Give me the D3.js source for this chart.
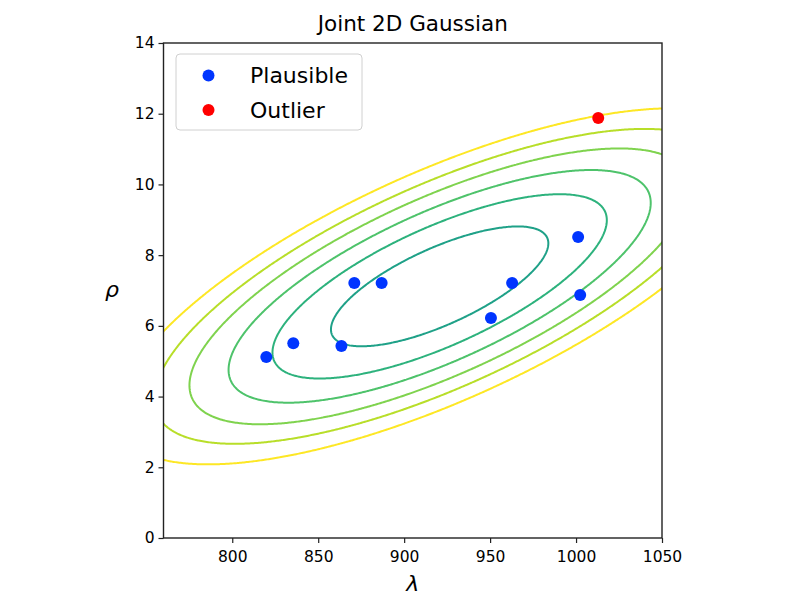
<!DOCTYPE html>
<html><head><meta charset="utf-8">
<script src="https://cdn.jsdelivr.net/npm/d3@7"></script>
<style>
body{margin:0;background:#fff;}
text{font-family:"DejaVu Sans",sans-serif;fill:#000;}
</style>
</head><body>
<svg id="chart" width="800" height="600"></svg>
<script>
// ---- data ----
const plausibleLambda = [819.8, 835.5, 863.5, 871.0, 886.9, 950.5, 962.8, 1001.2, 1002.4];
const plausibleRho    = [5.12, 5.51, 5.43, 7.21, 7.21, 6.22, 7.21, 8.51, 6.87];
const outlierLambda   = [1012.9];
const outlierRho      = [11.88];
// contour levels, squared Mahalanobis distance of the joint Gaussian fitted to all points
const contourLevels   = [0.74, 1.75, 2.79, 3.92, 5.11, 6.53];
const xTicks = [800, 850, 900, 950, 1000, 1050];
const yTicks = [0, 2, 4, 6, 8, 10, 12, 14];
const legendLabels = ["Plausible", "Outlier"];
const titleText = "Joint 2D Gaussian";

// ---- layout ----
const plot = {left: 163.5, right: 662, top: 43, bottom: 538};
const svg = d3.select("#chart");

const x = d3.scaleLinear().domain([760, 1050]).range([plot.left, plot.right]);
const y = d3.scaleLinear().domain([0, 14]).range([plot.bottom, plot.top]);

// ---- Gaussian fit (mean, sample covariance) ----
const allX = plausibleLambda.concat(outlierLambda);
const allY = plausibleRho.concat(outlierRho);
const n = allX.length;
const mx = d3.mean(allX), my = d3.mean(allY);
let sxx = 0, syy = 0, sxy = 0;
for (let i = 0; i < n; i++) {
  const dx = allX[i] - mx, dy = allY[i] - my;
  sxx += dx * dx; syy += dy * dy; sxy += dx * dy;
}
sxx /= (n - 1); syy /= (n - 1); sxy /= (n - 1);
const det = sxx * syy - sxy * sxy;
const pxx = syy / det, pyy = sxx / det, pxy = -sxy / det;
const maha = (a, b) => {
  const dx = a - mx, dy = b - my;
  return pxx * dx * dx + 2 * pxy * dx * dy + pyy * dy * dy;
};

// grid (extends beyond the axes so ellipses close; clipped later)
const gx0 = 670, gdx = 0.8, nx = 620;
const gy0 = -3, gdy = 0.04, ny = 551;
const values = new Float64Array(nx * ny);
for (let j = 0; j < ny; j++) {
  const yy = gy0 + j * gdy;
  for (let i = 0; i < nx; i++) {
    values[j * nx + i] = -maha(gx0 + i * gdx, yy);
  }
}
const contours = d3.contours().size([nx, ny])
  .thresholds(contourLevels.map(c => -c))(values);

const proj = d3.geoTransform({
  point: function(gx, gy) {
    this.stream.point(x(gx0 + (gx - 0.5) * gdx), y(gy0 + (gy - 0.5) * gdy));
  }
});
const path = d3.geoPath(proj);
const color = d3.scaleSequential(d3.interpolateViridis).domain([-6.84, 6.53]);

svg.append("defs").append("clipPath").attr("id", "clip")
  .append("rect").attr("x", plot.left).attr("y", plot.top)
  .attr("width", plot.right - plot.left).attr("height", plot.bottom - plot.top);

svg.append("g").attr("clip-path", "url(#clip)")
  .selectAll("path").data(contours).join("path")
  .attr("d", path)
  .attr("fill", "none")
  .attr("stroke", d => color(-d.value))
  .attr("stroke-width", 2);

// ---- axes ----
const xAxis = d3.axisBottom(x).tickValues(xTicks).tickFormat(d3.format("d")).tickSize(5).tickPadding(4);
const yAxis = d3.axisLeft(y).tickValues(yTicks).tickFormat(d3.format("d")).tickSize(5).tickPadding(4);
const gx = svg.append("g").attr("transform", `translate(0,${plot.bottom})`).call(xAxis);
const gy = svg.append("g").attr("transform", `translate(${plot.left},0)`).call(yAxis);
[gx, gy].forEach(g => {
  g.select(".domain").remove();
  g.selectAll("line").attr("stroke", "#222").attr("stroke-width", 1.2);
  g.selectAll("text").attr("font-family", "DejaVu Sans").attr("font-size", 15.5).attr("fill", "#111");
});
gx.selectAll("text").attr("dy", "0.95em");

svg.append("rect").attr("x", plot.left).attr("y", plot.top)
  .attr("width", plot.right - plot.left).attr("height", plot.bottom - plot.top)
  .attr("fill", "none").attr("stroke", "#222").attr("stroke-width", 1.4);

// ---- points ----
svg.append("g").selectAll("circle")
  .data(d3.zip(plausibleLambda, plausibleRho)).join("circle")
  .attr("cx", d => x(d[0])).attr("cy", d => y(d[1])).attr("r", 6)
  .attr("fill", "#0035ff");
svg.append("g").selectAll("circle")
  .data(d3.zip(outlierLambda, outlierRho)).join("circle")
  .attr("cx", d => x(d[0])).attr("cy", d => y(d[1])).attr("r", 6)
  .attr("fill", "#ff0000");

// ---- title & labels ----
svg.append("text").attr("x", (plot.left + plot.right) / 2).attr("y", 31)
  .attr("text-anchor", "middle").attr("font-size", 21.5).text(titleText);
svg.append("text").attr("x", (plot.left + plot.right) / 2).attr("y", 591)
  .attr("text-anchor", "middle").attr("font-size", 22).attr("font-style", "italic").text("λ");
svg.append("text").attr("x", 112).attr("y", 297)
  .attr("text-anchor", "middle").attr("font-size", 22).attr("font-style", "italic").text("ρ");

// ---- legend ----
const lg = svg.append("g");
lg.append("rect").attr("x", 176).attr("y", 54).attr("width", 186).attr("height", 76)
  .attr("rx", 4).attr("fill", "#fff").attr("fill-opacity", 0.8)
  .attr("stroke", "#d0d0d0").attr("stroke-width", 1);
const legendColors = ["#0035ff", "#ff0000"];
legendLabels.forEach((lab, i) => {
  const cy = 75.5 + i * 34.5;
  lg.append("circle").attr("cx", 208.5).attr("cy", cy).attr("r", 6).attr("fill", legendColors[i]);
  lg.append("text").attr("x", 250).attr("y", cy + 7.5).attr("font-size", 22).text(lab);
});
</script>
</body></html>
